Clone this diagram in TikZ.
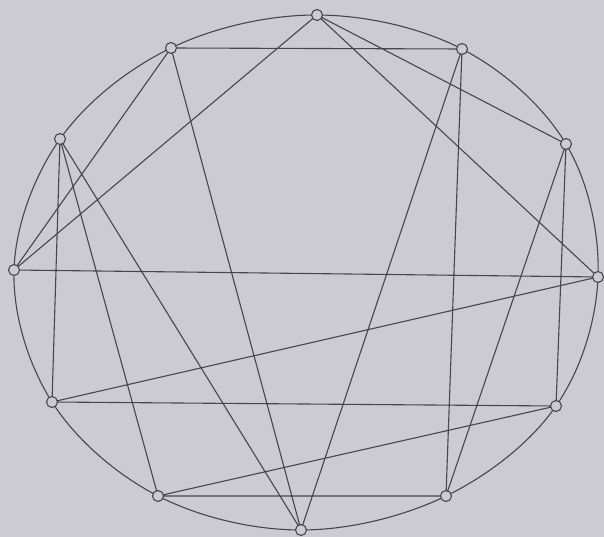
\documentclass[tikz,border=0pt]{standalone}
\begin{document}
\begin{tikzpicture}[x=1pt,y=-1pt,
  ink/.style={draw={rgb,255:red,70;green,70;blue,76}, line width=1.1pt},
  vtx/.style={circle, ink, fill=paper, inner sep=0pt, minimum size=11pt},
  chord/.style={ink}]
\definecolor{paper}{RGB}{204,202,210}
\fill[paper] (0,0) rectangle (604,537);
\useasboundingbox (0,0) rectangle (604,537);
\coordinate (pA) at (317,15);
\coordinate (pB) at (171,48);
\coordinate (pC) at (462,49);
\coordinate (pD) at (60,139);
\coordinate (pE) at (566,144);
\coordinate (pF) at (14,270);
\coordinate (pG) at (598,277);
\coordinate (pH) at (52,402);
\coordinate (pI) at (556,406);
\coordinate (pJ) at (158,496);
\coordinate (pK) at (446,496);
\coordinate (pL) at (301,530);
\draw[ink] plot[smooth cycle, tension=0.6] coordinates {(pA) (pC) (pE) (pG) (pI) (pK) (pL) (pJ) (pH) (pF) (pD) (pB)};
\draw[chord] (pA) -- (pF) (pA) -- (pE) (pA) -- (pG)
  (pB) -- (pC) (pB) -- (pF) (pB) -- (pL)
  (pC) -- (pK) (pC) -- (pL)
  (pD) -- (pH) (pD) -- (pJ) (pD) -- (pL)
  (pE) -- (pI) (pE) -- (pK)
  (pF) -- (pG) (pG) -- (pH) (pH) -- (pI) (pI) -- (pJ) (pJ) -- (pK);
\foreach \n in {A,B,C,D,E,F,G,H,I,J,K,L}
  \node[vtx] (\n) at (p\n) {};
\end{tikzpicture}
\end{document}
